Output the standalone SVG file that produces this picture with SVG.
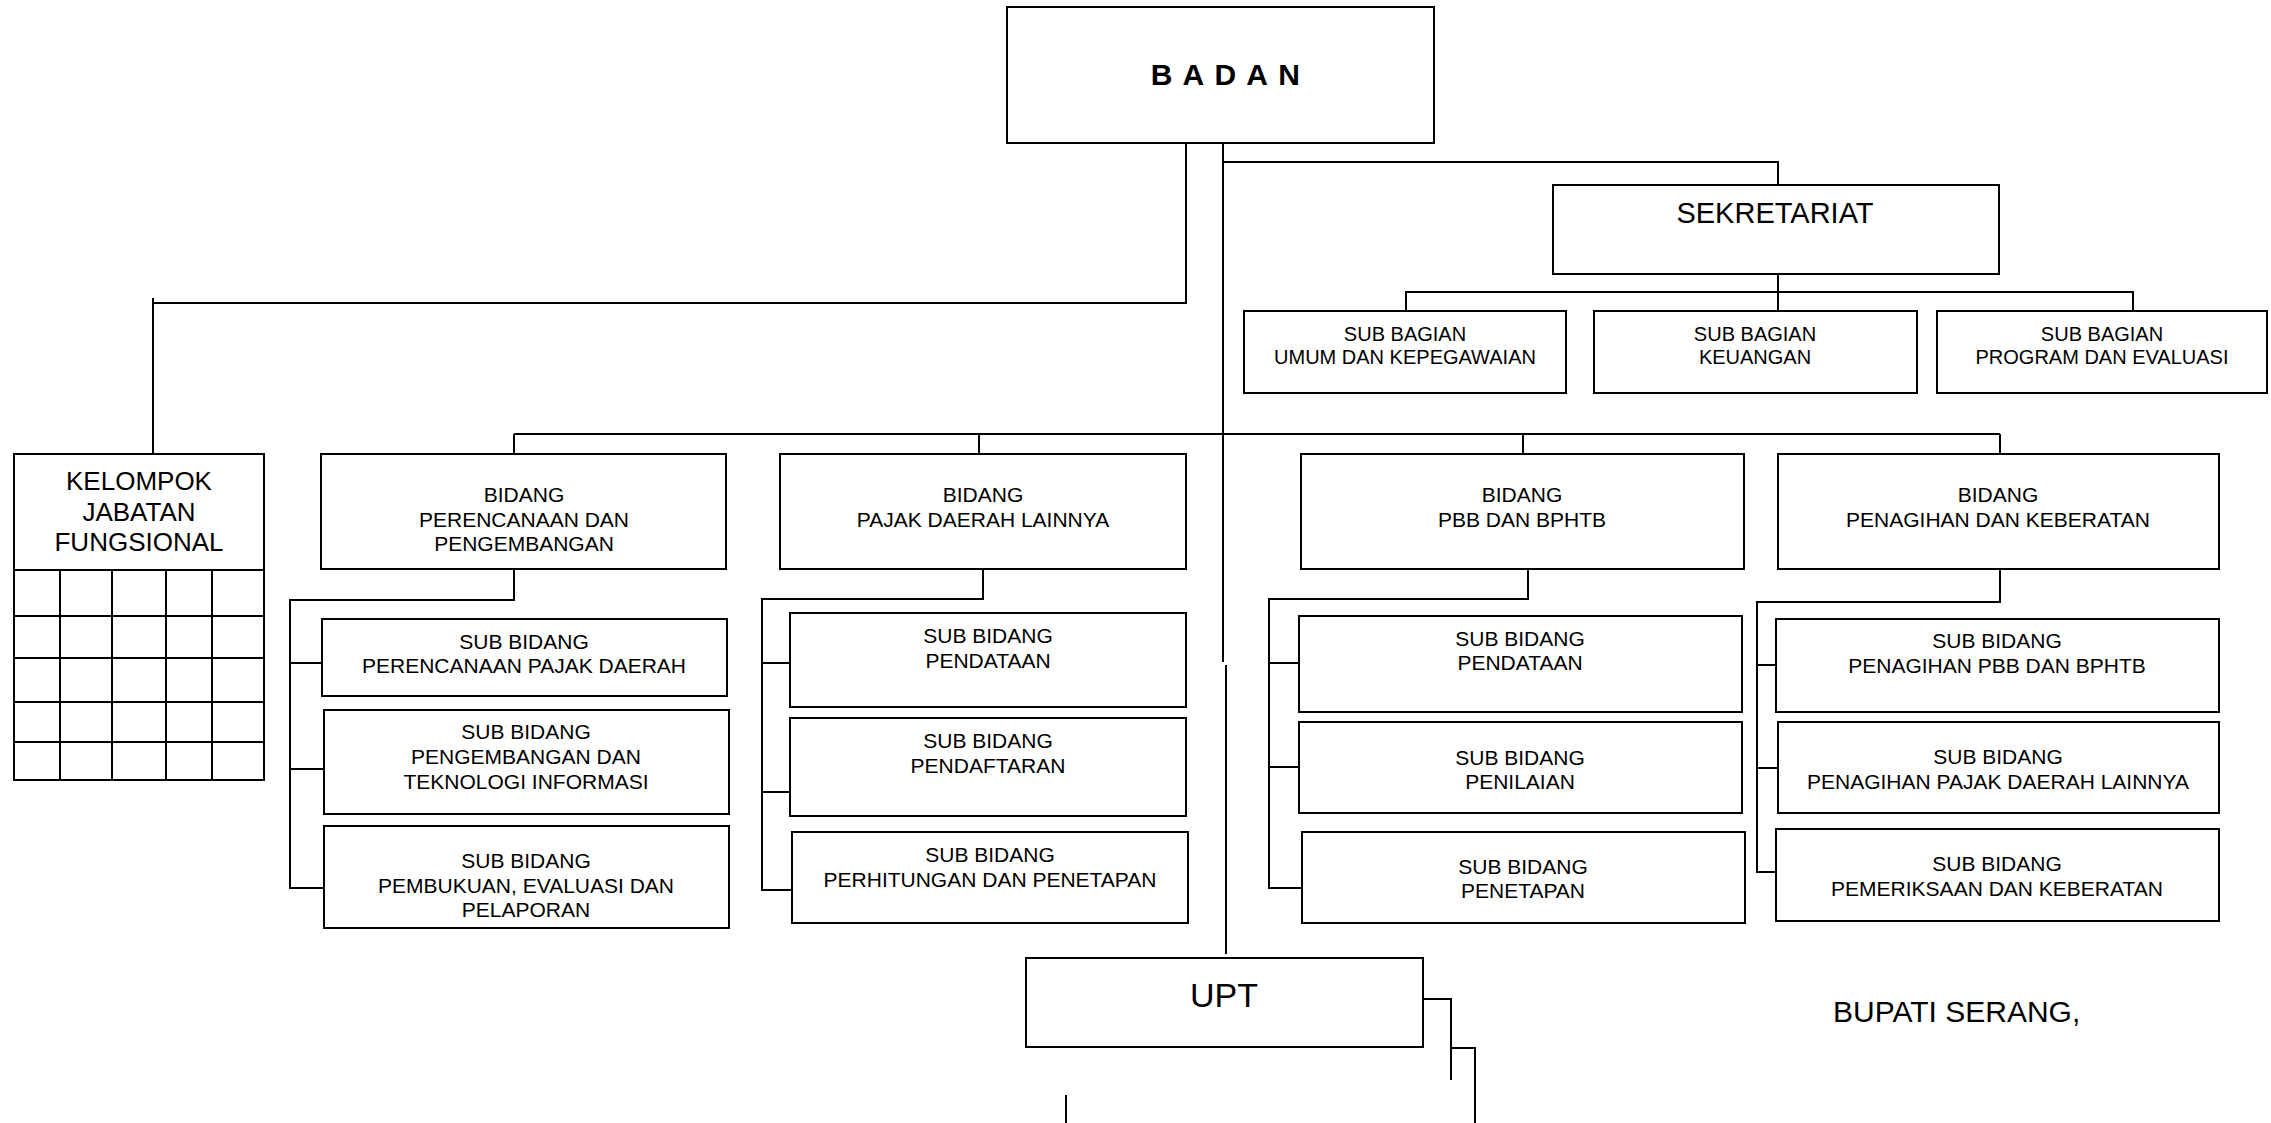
<svg xmlns="http://www.w3.org/2000/svg" width="2271" height="1123" viewBox="0 0 2271 1123">
<style>
rect{fill:#fff;stroke:#000;stroke-width:2}
.c line,.c polyline{stroke:#000;stroke-width:2;fill:none}
.g line{stroke:#000;stroke-width:2}
text{font-family:"Liberation Sans",Arial,sans-serif;fill:#000;text-anchor:middle}
.t21{font-size:21px}
.t20{font-size:20px}
</style>
<rect x="0" y="0" width="2271" height="1123" style="stroke:none"/>
<g class="c" id="connectors">
<polyline points="1186,143 1186,303 153,303"/>
<line x1="153" y1="298" x2="153" y2="454"/>
<line x1="1223" y1="143" x2="1223" y2="662"/>
<line x1="1226" y1="665" x2="1226" y2="954"/>
<polyline points="1223,162 1778,162 1778,185"/>
<line x1="1778" y1="274" x2="1778" y2="311"/>
<polyline points="1406,311 1406,292 2133,292 2133,311"/>
<line x1="514" y1="434" x2="2000" y2="434"/>
<line x1="514" y1="434" x2="514" y2="454"/>
<line x1="979" y1="434" x2="979" y2="454"/>
<line x1="1523" y1="434" x2="1523" y2="454"/>
<line x1="2000" y1="434" x2="2000" y2="454"/>
<polyline points="514,569 514,600 290,600 290,888 324,888"/>
<line x1="290" y1="663" x2="322" y2="663"/>
<line x1="290" y1="769" x2="324" y2="769"/>
<polyline points="983,569 983,599 762,599 762,890 792,890"/>
<line x1="762" y1="663" x2="790" y2="663"/>
<line x1="762" y1="792" x2="790" y2="792"/>
<polyline points="1528,569 1528,599 1269,599 1269,888 1302,888"/>
<line x1="1269" y1="663" x2="1299" y2="663"/>
<line x1="1269" y1="767" x2="1299" y2="767"/>
<polyline points="2000,569 2000,602 1757,602 1757,872 1776,872"/>
<line x1="1757" y1="665" x2="1776" y2="665"/>
<line x1="1757" y1="768" x2="1778" y2="768"/>
<polyline points="1423,999 1451,999 1451,1080"/>
<polyline points="1451,1048 1475,1048 1475,1123"/>
<line x1="1066" y1="1095" x2="1066" y2="1123"/>
</g>
<g id="badan">
<rect x="1007" y="7" width="427" height="136"/>
<text x="1226" y="85" style="font-size:30px;font-weight:bold;letter-spacing:1.5px">B A D A N</text>
</g>
<g id="sekretariat">
<rect x="1553" y="185" width="446" height="89"/>
<text x="1775" y="223" style="font-size:29px">SEKRETARIAT</text>
</g>
<g id="sub-bagian-umum" class="t20">
<rect x="1244" y="311" width="322" height="82"/>
<text x="1405" y="341">SUB BAGIAN</text>
<text x="1405" y="364">UMUM DAN KEPEGAWAIAN</text>
</g>
<g id="sub-bagian-keuangan" class="t20">
<rect x="1594" y="311" width="323" height="82"/>
<text x="1755" y="341">SUB BAGIAN</text>
<text x="1755" y="364">KEUANGAN</text>
</g>
<g id="sub-bagian-program" class="t20">
<rect x="1937" y="311" width="330" height="82"/>
<text x="2102" y="341">SUB BAGIAN</text>
<text x="2102" y="364">PROGRAM DAN EVALUASI</text>
</g>
<g id="kelompok">
<rect x="14" y="454" width="250" height="326"/>
<g class="g">
<line x1="14" y1="570" x2="264" y2="570"/>
<line x1="14" y1="616" x2="264" y2="616"/>
<line x1="14" y1="658" x2="264" y2="658"/>
<line x1="14" y1="702" x2="264" y2="702"/>
<line x1="14" y1="742" x2="264" y2="742"/>
<line x1="60" y1="570" x2="60" y2="780"/>
<line x1="112" y1="570" x2="112" y2="780"/>
<line x1="166" y1="570" x2="166" y2="780"/>
<line x1="212" y1="570" x2="212" y2="780"/>
</g>
<text x="139" y="490" style="font-size:26px">KELOMPOK</text>
<text x="139" y="521" style="font-size:26px">JABATAN</text>
<text x="139" y="551" style="font-size:26px">FUNGSIONAL</text>
</g>
<g id="bidang-perencanaan" class="t21">
<rect x="321" y="454" width="405" height="115"/>
<text x="524" y="502">BIDANG</text>
<text x="524" y="527">PERENCANAAN DAN</text>
<text x="524" y="551">PENGEMBANGAN</text>
</g>
<g id="bidang-pajak" class="t21">
<rect x="780" y="454" width="406" height="115"/>
<text x="983" y="502">BIDANG</text>
<text x="983" y="527">PAJAK DAERAH LAINNYA</text>
</g>
<g id="bidang-pbb" class="t21">
<rect x="1301" y="454" width="443" height="115"/>
<text x="1522" y="502">BIDANG</text>
<text x="1522" y="527">PBB DAN BPHTB</text>
</g>
<g id="bidang-penagihan" class="t21">
<rect x="1778" y="454" width="441" height="115"/>
<text x="1998" y="502">BIDANG</text>
<text x="1998" y="527">PENAGIHAN DAN KEBERATAN</text>
</g>
<g id="sub-perencanaan-pajak" class="t21">
<rect x="322" y="619" width="405" height="77"/>
<text x="524" y="649">SUB BIDANG</text>
<text x="524" y="673">PERENCANAAN PAJAK DAERAH</text>
</g>
<g id="sub-pengembangan-ti" class="t21">
<rect x="324" y="710" width="405" height="104"/>
<text x="526" y="739">SUB BIDANG</text>
<text x="526" y="764">PENGEMBANGAN DAN</text>
<text x="526" y="789">TEKNOLOGI INFORMASI</text>
</g>
<g id="sub-pembukuan" class="t21">
<rect x="324" y="826" width="405" height="102"/>
<text x="526" y="868">SUB BIDANG</text>
<text x="526" y="893">PEMBUKUAN, EVALUASI DAN</text>
<text x="526" y="917">PELAPORAN</text>
</g>
<g id="sub-pendataan-pdl" class="t21">
<rect x="790" y="613" width="396" height="94"/>
<text x="988" y="643">SUB BIDANG</text>
<text x="988" y="668">PENDATAAN</text>
</g>
<g id="sub-pendaftaran" class="t21">
<rect x="790" y="718" width="396" height="98"/>
<text x="988" y="748">SUB BIDANG</text>
<text x="988" y="773">PENDAFTARAN</text>
</g>
<g id="sub-perhitungan" class="t21">
<rect x="792" y="832" width="396" height="91"/>
<text x="990" y="862">SUB BIDANG</text>
<text x="990" y="887">PERHITUNGAN DAN PENETAPAN</text>
</g>
<g id="sub-pendataan-pbb" class="t21">
<rect x="1299" y="616" width="443" height="96"/>
<text x="1520" y="646">SUB BIDANG</text>
<text x="1520" y="670">PENDATAAN</text>
</g>
<g id="sub-penilaian" class="t21">
<rect x="1299" y="722" width="443" height="91"/>
<text x="1520" y="765">SUB BIDANG</text>
<text x="1520" y="789">PENILAIAN</text>
</g>
<g id="sub-penetapan" class="t21">
<rect x="1302" y="832" width="443" height="91"/>
<text x="1523" y="874">SUB BIDANG</text>
<text x="1523" y="898">PENETAPAN</text>
</g>
<g id="sub-penagihan-pbb" class="t21">
<rect x="1776" y="619" width="443" height="93"/>
<text x="1997" y="648">SUB BIDANG</text>
<text x="1997" y="673">PENAGIHAN PBB DAN BPHTB</text>
</g>
<g id="sub-penagihan-pdl" class="t21">
<rect x="1778" y="722" width="441" height="91"/>
<text x="1998" y="764">SUB BIDANG</text>
<text x="1998" y="789">PENAGIHAN PAJAK DAERAH LAINNYA</text>
</g>
<g id="sub-pemeriksaan" class="t21">
<rect x="1776" y="829" width="443" height="92"/>
<text x="1997" y="871">SUB BIDANG</text>
<text x="1997" y="896">PEMERIKSAAN DAN KEBERATAN</text>
</g>
<g id="upt">
<rect x="1026" y="958" width="397" height="89"/>
<text x="1224" y="1007" style="font-size:34px">UPT</text>
</g>
<g id="bupati">
<text x="1833" y="1022" style="font-size:30px;text-anchor:start">BUPATI SERANG,</text>
</g>
</svg>
